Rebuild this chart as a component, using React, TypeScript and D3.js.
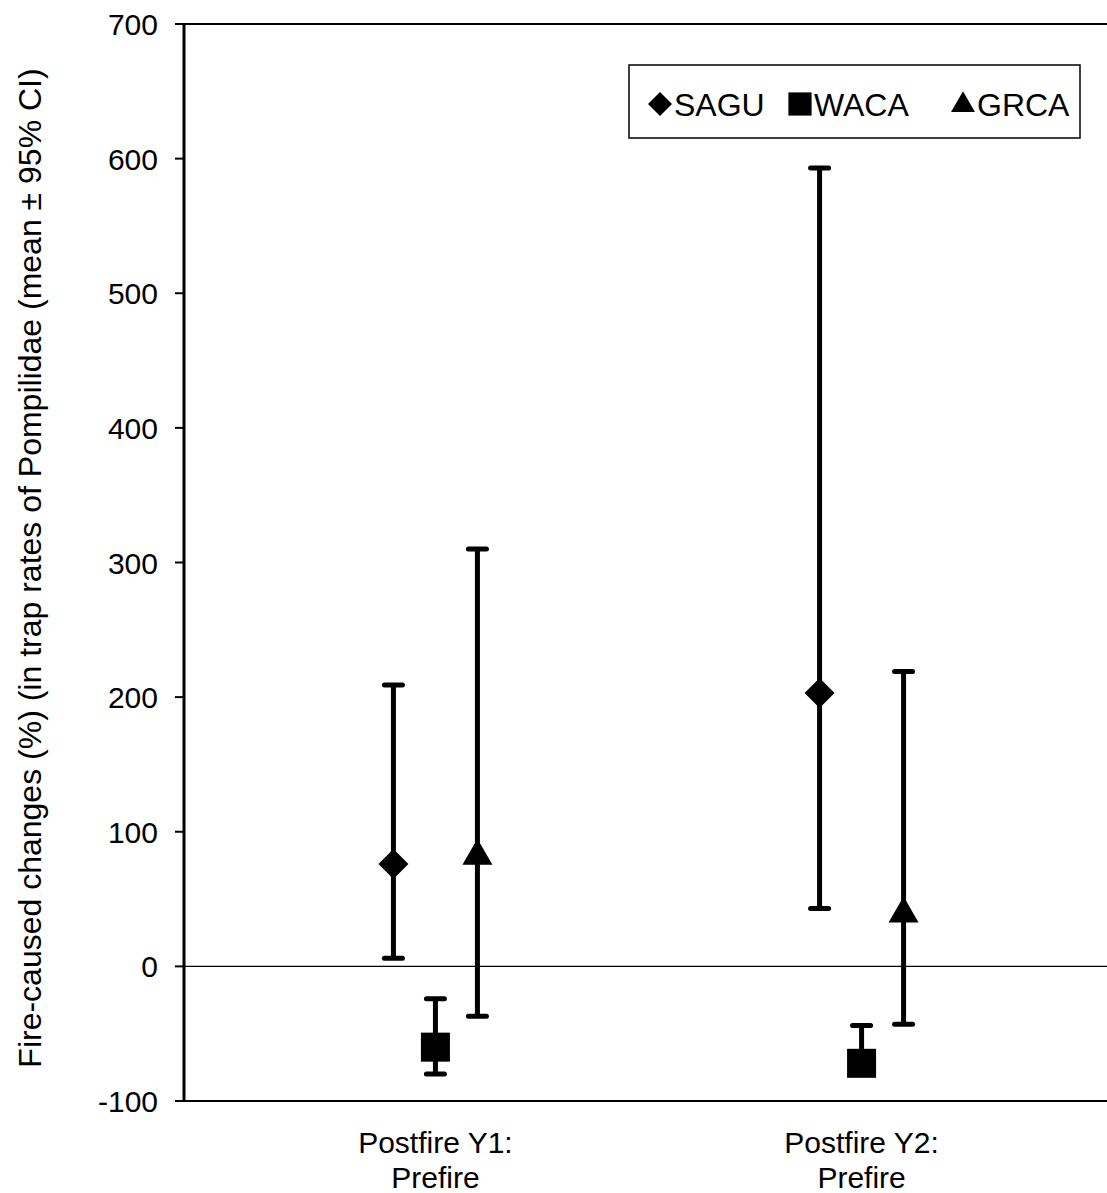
import React from "react";
import * as d3 from "d3";

const categories = ["Postfire Y1:\nPrefire", "Postfire Y2:\nPrefire"];
const series = ["SAGU", "WACA", "GRCA"];
const means = [
  [76, 203],
  [-60, -72],
  [83, 40],
];
const lowers = [
  [6, 43],
  [-80, -80],
  [-37, -43],
];
const uppers = [
  [209, 593],
  [-24, -44],
  [310, 219],
];
const yTicks = [-100, 0, 100, 200, 300, 400, 500, 600, 700];

const W = 1107;
const H = 1193;
const left = 184;
const top = 24;
const bottom = 1101;
const font = "'Liberation Sans', Arial, sans-serif";

function Marker({ type, x, y, s = 1 }: { type: string; x: number; y: number; s?: number }) {
  if (type === "SAGU") {
    const r = 15 * s;
    return <path d={`M${x},${y - r}L${x + r},${y}L${x},${y + r}L${x - r},${y}Z`} fill="#000" />;
  }
  if (type === "WACA") {
    const h = 14.5 * s;
    return <rect x={x - h} y={y - h} width={2 * h} height={2 * h} fill="#000" />;
  }
  const w = 15 * s;
  return <path d={`M${x},${y - 16 * s}L${x + w},${y + 10 * s}L${x - w},${y + 10 * s}Z`} fill="#000" />;
}

export default function App() {
  const y = d3.scaleLinear().domain([-100, 700]).range([bottom, top]);
  const x = d3.scalePoint<string>().domain(categories).range([left, 1113]).padding(0.59);
  const offsets = [-42, 0, 42];
  const legendX = [660, 800, 963];

  return (
    <svg width={W} height={H} style={{ display: "block", position: "absolute", left: 0, top: 0 }}>
      <rect width={W} height={H} fill="#fff" />
      {/* frame */}
      <line x1={left} x2={W} y1={top} y2={top} stroke="#000" strokeWidth={2} />
      <line x1={left} x2={W} y1={bottom} y2={bottom} stroke="#000" strokeWidth={2} />
      <line x1={left} x2={left} y1={top} y2={bottom} stroke="#000" strokeWidth={3} />
      <line x1={left} x2={W} y1={y(0)} y2={y(0)} stroke="#000" strokeWidth={1.2} />
      {yTicks.map((t) => (
        <g key={t}>
          <line x1={left - 9} x2={left} y1={y(t)} y2={y(t)} stroke="#000" strokeWidth={2} />
          <text x={158} y={y(t) + 11} textAnchor="end" fontFamily={font} fontSize={30} fill="#000">
            {t}
          </text>
        </g>
      ))}
      {/* x labels */}
      {categories.map((c) => (
        <text key={c} x={x(c)} fontFamily={font} fontSize={30} textAnchor="middle" fill="#000">
          {c.split("\n").map((line, i) => (
            <tspan key={i} x={x(c)} y={1153 + i * 35}>
              {line}
            </tspan>
          ))}
        </text>
      ))}
      {/* y title */}
      <text
        transform={`translate(41,568) rotate(-90)`}
        textAnchor="middle"
        fontFamily={font}
        fontSize={32}
        fill="#000"
      >
        Fire-caused changes (%) (in trap rates of Pompilidae (mean ± 95% CI)
      </text>
      {/* error bars and markers */}
      {series.map((s, si) =>
        categories.map((c, ci) => {
          const cx = (x(c) as number) + offsets[si];
          return (
            <g key={s + ci}>
              <line x1={cx} x2={cx} y1={y(lowers[si][ci])} y2={y(uppers[si][ci])} stroke="#000" strokeWidth={5} />
              <line x1={cx - 9} x2={cx + 9} y1={y(uppers[si][ci])} y2={y(uppers[si][ci])} stroke="#000" strokeWidth={5} strokeLinecap="round" />
              <line x1={cx - 9} x2={cx + 9} y1={y(lowers[si][ci])} y2={y(lowers[si][ci])} stroke="#000" strokeWidth={5} strokeLinecap="round" />
              <Marker type={s} x={cx} y={y(means[si][ci])} />
            </g>
          );
        })
      )}
      {/* legend */}
      <rect x={629} y={65} width={451} height={73} fill="#fff" stroke="#000" strokeWidth={1.5} />
      {series.map((s, i) => {
        const lx = legendX[i];
        return (
          <g key={s}>
            <Marker type={s} x={lx} y={104} s={0.8} />
            <text x={lx + 14} y={116} fontFamily={font} fontSize={32} fill="#000">
              {s}
            </text>
          </g>
        );
      })}
    </svg>
  );
}
